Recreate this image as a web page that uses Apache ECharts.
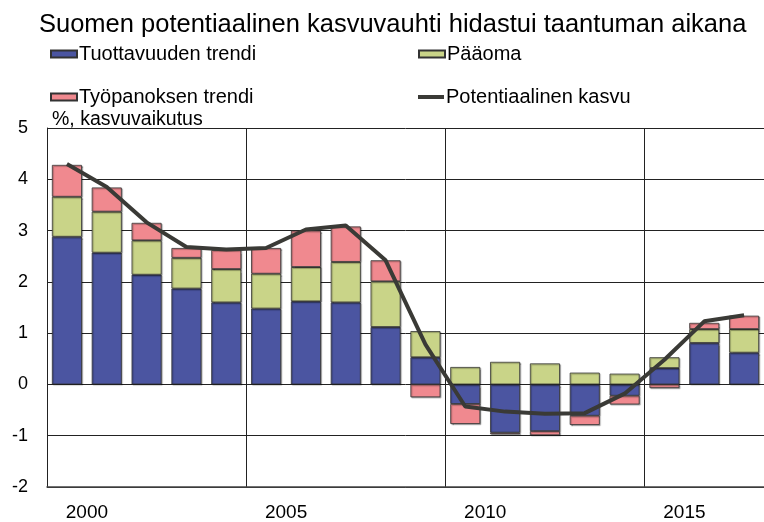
<!DOCTYPE html>
<html>
<head>
<meta charset="utf-8">
<script src="https://cdn.jsdelivr.net/npm/echarts@6/dist/echarts.min.js"></script>
<style>
  html, body { margin: 0; padding: 0; background: #fff; }
  #chart { width: 764px; height: 522px; }
</style>
</head>
<body>
<div id="chart"></div>
<script>
// years on the category axis
var years = ['2000', '2001', '2002', '2003', '2004', '2005', '2006', '2007', '2008',
  '2009', '2010', '2011', '2012', '2013', '2014', '2015', '2016', '2017'];

// contributions, %-points
var tuottavuus = [2.88, 2.57, 2.14, 1.87, 1.60, 1.48, 1.62, 1.60, 1.12,
  0.53, -0.38, -0.94, -0.91, -0.61, -0.22, 0.32, 0.81, 0.62];
var paaoma = [0.78, 0.80, 0.67, 0.60, 0.65, 0.68, 0.67, 0.79, 0.89,
  0.51, 0.34, 0.44, 0.41, 0.23, 0.21, 0.21, 0.27, 0.46];
var tyopanos = [0.62, 0.47, 0.34, 0.19, 0.37, 0.50, 0.71, 0.69, 0.41,
  -0.25, -0.39, -0.03, -0.08, -0.18, -0.17, -0.07, 0.12, 0.26];
var potentiaalinen = [4.30, 3.85, 3.16, 2.68, 2.63, 2.66, 3.02, 3.10, 2.42,
  0.78, -0.43, -0.53, -0.57, -0.56, -0.18, 0.48, 1.23, 1.35];

var yTicks = [-2, -1, 0, 1, 2, 3, 4, 5];

var names = ['Tuottavuuden trendi', 'Pääoma', 'Työpanoksen trendi', 'Potentiaalinen kasvu'];
var colors = ['#4b55a1', '#c9d488', '#f0898f', '#3a3a36'];

var font = 'Liberation Sans, Arial, sans-serif';

var chart = echarts.init(document.getElementById('chart'), null, { renderer: 'canvas' });

function legendAt(name, left, top, isLine) {
  return {
    data: [name],
    left: left,
    top: top,
    icon: 'rect',
    itemWidth: 26,
    itemHeight: isLine ? 4 : 7,
    itemGap: 0,
    padding: 0,
    textStyle: { fontFamily: font, fontSize: 20, color: '#000', padding: [0, 0, 0, -3] },
    selectedMode: false
  };
}

var barStyle = function (c) {
  return {
    color: c,
    borderColor: '#333',
    borderWidth: 0.8,
    shadowColor: 'rgba(0,0,0,0.35)',
    shadowOffsetX: 1,
    shadowOffsetY: 1,
    shadowBlur: 1
  };
};

var option = {
  animation: false,
  backgroundColor: '#fff',
  title: {
    text: 'Suomen potentiaalinen kasvuvauhti hidastui taantuman aikana',
    left: 39,
    top: 12,
    padding: 0,
    textStyle: { fontFamily: font, fontSize: 25.5, fontWeight: 'normal', color: '#000' }
  },
  legend: [
    legendAt(names[0], 50, 44, false),
    legendAt(names[1], 418, 44, false),
    legendAt(names[2], 50, 87, false),
    legendAt(names[3], 418, 87, true)
  ],
  graphic: [{
    type: 'text',
    left: 52,
    top: 110,
    style: { text: '%, kasvuvaikutus', font: '19.5px ' + font, fill: '#000' }
  }],
  grid: { left: 47, top: 128, width: 720, height: 359 },
  xAxis: {
    type: 'category',
    data: years,
    boundaryGap: true,
    axisLine: { onZero: false, lineStyle: { color: '#444', width: 1.5 } },
    axisTick: { show: false },
    axisLabel: {
      interval: function (i) { return i % 5 === 0; },
      fontFamily: font,
      fontSize: 19,
      color: '#000',
      margin: 16,
      padding: [0, 0, 0, 40]
    },
    splitLine: {
      show: true,
      interval: function (i) { return i % 5 === 0; },
      lineStyle: { color: '#222', width: 1 }
    }
  },
  yAxis: {
    type: 'value',
    min: yTicks[0],
    max: yTicks[yTicks.length - 1],
    interval: 1,
    axisLine: { show: true, lineStyle: { color: '#222', width: 1 } },
    axisTick: { show: false },
    axisLabel: { fontFamily: font, fontSize: 18, color: '#000', margin: 19 },
    splitLine: { lineStyle: { color: '#222', width: 1 } }
  },
  series: [
    { name: names[0], type: 'bar', stack: 'k', barWidth: 30, data: tuottavuus, itemStyle: barStyle(colors[0]) },
    { name: names[1], type: 'bar', stack: 'k', barWidth: 30, data: paaoma, itemStyle: barStyle(colors[1]) },
    { name: names[2], type: 'bar', stack: 'k', barWidth: 30, data: tyopanos, itemStyle: barStyle(colors[2]) },
    {
      name: names[3], type: 'line', data: potentiaalinen, symbol: 'none', z: 5,
      itemStyle: { color: colors[3] },
      lineStyle: { color: colors[3], width: 4 }
    }
  ]
};

chart.setOption(option);
</script>
</body>
</html>
